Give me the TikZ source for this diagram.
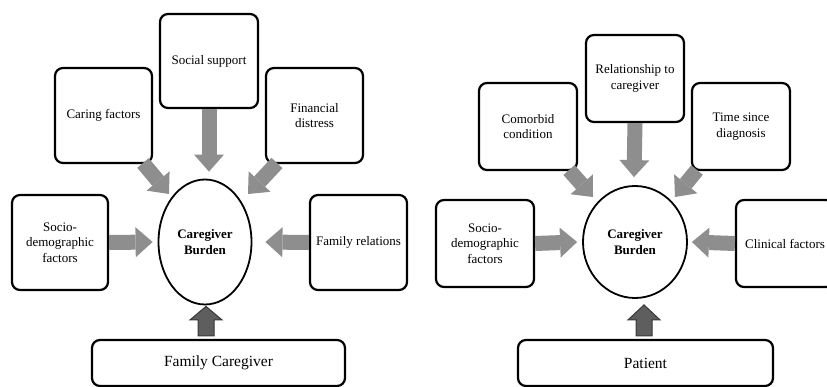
\documentclass[tikz,border=0pt]{standalone}
\usepackage{fontspec}
\setmainfont{Liberation Serif}
\usetikzlibrary{arrows.meta,shapes.geometric,calc}
\definecolor{arrowgray}{HTML}{8E8E8E}
\definecolor{upfill}{HTML}{5E5E5E}
\definecolor{upedge}{HTML}{383838}
\newcommand{\boxfont}{\fontsize{13}{15.5}\selectfont}
\newcommand{\basefont}{\fontsize{15.5}{18}\selectfont}
\tikzset{
  box/.style={draw, line width=2.2pt, rounded corners=8pt, fill=white, align=center, font=\boxfont, inner sep=2pt},
  lbox/.style={box, minimum width=97pt, minimum height=95pt},
  rbox/.style={box, minimum width=98pt, minimum height=87pt},
  basebox/.style={box, minimum width=253pt, minimum height=46pt, font=\basefont},
  burdenstyle/.style={draw, ellipse, line width=1.8pt, align=center, font=\boxfont\bfseries, inner sep=0pt},
  garrow/.style={line width=15pt, draw=arrowgray, line cap=butt, -{Triangle[width=30pt,length=17pt,line width=0pt]}},
  uparrow/.style={fill=upfill, draw=upedge, line width=1pt, line join=miter},
}
\begin{document}
\begin{tikzpicture}[x=1pt,y=-1pt]
\useasboundingbox (0,0) rectangle (827,387);
% ---------- Left panel ----------
\node[burdenstyle, minimum width=93pt, minimum height=125pt] (b1) at (205,242) {Caregiver\\Burden};
\node[lbox, minimum width=98pt, minimum height=94pt] (soc) at (209,61) {Social support};
\node[lbox] (care) at (103.5,115.5) {Caring factors};
\node[lbox] (fin) at (314.5,115.5) {Financial\\distress};
\node[lbox, minimum width=96pt] (sd1) at (60,242.5) {Socio-\\demographic\\factors};
\node[lbox] (fr) at (358.5,242.5) {Family relations};
\node[basebox] (fc) at (218.5,363) {Family Caregiver};
\coordinate (careS) at (143,163);
\coordinate (finS) at (277,163);
\draw[garrow] (soc.south) -- ($(b1.north)+(4,-7)$);
\draw[garrow] (careS) -- (169,194);
\draw[garrow] (finS) -- (248,194);
\draw[garrow] (sd1.east) -- ($(b1.west)+(-5,0)$);
\draw[garrow] (fr.west) -- ($(b1.east)+(13,0)$);
\coordinate (u1) at ($(fc.north -| b1.south)+(1,-3)$);
\draw[uparrow] ($(u1)+(-8,0)$) -- ++(0,-16) -- ++(-8,0) -- ($(b1.south)+(1,1)$) -- ($(u1)+(16,-16)$) -- ++(-8,0) -- ++(0,16) -- cycle;
% ---------- Right panel ----------
\node[burdenstyle, minimum width=104pt, minimum height=112pt] (b2) at (635,242) {Caregiver\\Burden};
\node[rbox] (rel) at (635,78.5) {Relationship to\\caregiver};
\node[rbox] (com) at (528,126.5) {Comorbid\\condition};
\node[rbox] (tim) at (741,126.5) {Time since\\diagnosis};
\node[rbox] (sd2) at (485,243.5) {Socio-\\demographic\\factors};
\node[rbox] (clin) at (785,243.5) {Clinical factors};
\node[basebox, minimum width=255pt] (pat) at (645.5,363) {Patient};
\coordinate (comS) at (569,170);
\coordinate (timS) at (697,170);
\draw[garrow] (rel.south) -- ($(b2.north)+(-1,-8)$);
\draw[garrow] (comS) -- (593,197);
\draw[garrow] (timS) -- (675,197);
\draw[garrow] (sd2.east) -- ($(b2.west)+(-5,0)$);
\draw[garrow] (clin.west) -- ($(b2.east)+(4,0)$);
\coordinate (u2) at ($(pat.north -| b2.south)+(9,-3)$);
\draw[uparrow] ($(u2)+(-8,0)$) -- ++(0,-16) -- ++(-8,0) -- ($(b2.south)+(9,6)$) -- ($(u2)+(16,-16)$) -- ++(-8,0) -- ++(0,16) -- cycle;
\end{tikzpicture}
\end{document}
